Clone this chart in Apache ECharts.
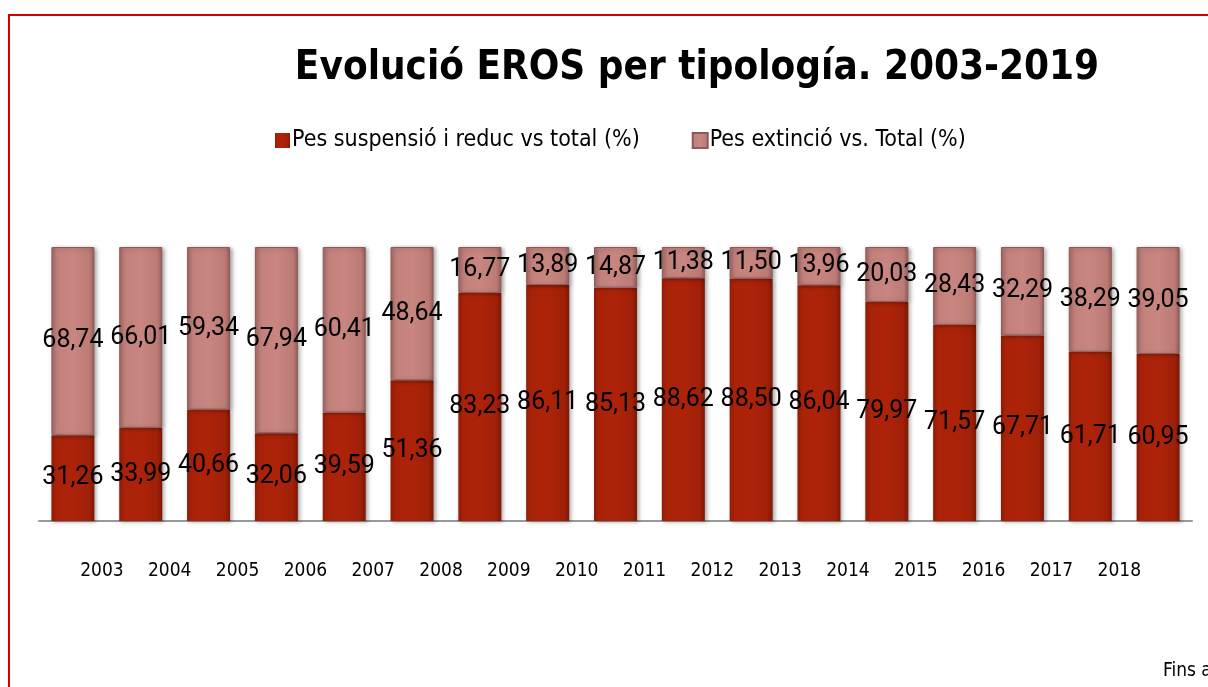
<!DOCTYPE html>
<html>
<head>
<meta charset="utf-8">
<script src="https://cdn.jsdelivr.net/npm/echarts@6/dist/echarts.min.js"></script>
<style>
  html, body { margin: 0; padding: 0; background: #fff; }
  #main { width: 1208px; height: 687px; }
</style>
</head>
<body>
<div id="main"></div>
<script>
// dades llegides del gràfic
var years = ['2003', '2004', '2005', '2006', '2007', '2008', '2009', '2010', '2011',
  '2012', '2013', '2014', '2015', '2016', '2017', '2018', ''];
var pesSuspensio = [31.26, 33.99, 40.66, 32.06, 39.59, 51.36, 83.23, 86.11, 85.13,
  88.62, 88.50, 86.04, 79.97, 71.57, 67.71, 61.71, 60.95];
var pesExtincio = [68.74, 66.01, 59.34, 67.94, 60.41, 48.64, 16.77, 13.89, 14.87,
  11.38, 11.50, 13.96, 20.03, 28.43, 32.29, 38.29, 39.05];

var narrow = '"DejaVu Sans Condensed", sans-serif';

function fmt(p) {
  return p.value.toFixed(2).replace('.', ',');
}

var myChart = echarts.init(document.getElementById('main'));
var option = {
  backgroundColor: '#fff',
  animation: false,
  title: {
    text: 'Evolució EROS per tipología. 2003-2019',
    left: 692,
    textAlign: 'center',
    top: 44,
    textStyle: { fontFamily: narrow, fontSize: 40, fontWeight: 'bold', color: '#000' }
  },
  legend: {
    top: 124,
    left: 270,
    itemWidth: 15,
    itemHeight: 15,
    itemGap: 52,
    icon: 'rect',
    textStyle: { fontFamily: narrow, fontSize: 23, color: '#000', padding: [0, 0, 0, -3] },
    data: ['Pes suspensió i reduc vs total (%)', 'Pes extinció vs. Total (%)']
  },
  graphic: [
    {
      type: 'rect',
      shape: { x: 9, y: 15, width: 1400, height: 900 },
      style: { fill: 'none', stroke: '#d40000', lineWidth: 2 },
      silent: true
    },
    {
      type: 'text',
      left: 1163,
      top: 662,
      style: { text: 'Fins a', fontFamily: narrow, fontSize: 19, fill: '#000' }
    }
  ],
  grid: { left: 39, right: 16, top: 247, bottom: 166 },
  xAxis: {
    type: 'category',
    data: years,
    axisLine: { lineStyle: { color: '#999', width: 2 } },
    axisTick: { show: false },
    axisLabel: {
      interval: 0,
      margin: 41,
      fontFamily: narrow,
      fontSize: 19,
      color: '#000',
      padding: [0, 0, 0, 58]
    }
  },
  yAxis: { type: 'value', min: 0, max: 100, show: false, splitLine: { show: false } },
  series: [
    {
      name: 'Pes suspensió i reduc vs total (%)',
      type: 'bar',
      stack: 'total',
      barWidth: 43,
      data: pesSuspensio,
      itemStyle: {
        color: new echarts.graphic.LinearGradient(0, 0, 1, 0, [
          { offset: 0, color: '#8e1c07' },
          { offset: 0.12, color: '#a92208' },
          { offset: 0.5, color: '#ad2309' },
          { offset: 0.88, color: '#a02008' },
          { offset: 1, color: '#7d1806' }
        ]),
        shadowColor: 'rgba(0,0,0,0.35)',
        shadowBlur: 4,
        shadowOffsetX: 2,
        shadowOffsetY: 1
      },
      label: {
        show: true,
        position: 'inside',
        formatter: fmt,
        fontFamily: 'Roboto, sans-serif',
        fontSize: 25,
        color: '#000'
      }
    },
    {
      name: 'Pes extinció vs. Total (%)',
      type: 'bar',
      stack: 'total',
      barWidth: 43,
      data: pesExtincio,
      itemStyle: {
        color: new echarts.graphic.LinearGradient(0, 0, 1, 0, [
          { offset: 0, color: '#a86965' },
          { offset: 0.12, color: '#c3817c' },
          { offset: 0.5, color: '#c98681' },
          { offset: 0.88, color: '#bd7b76' },
          { offset: 1, color: '#9a605c' }
        ]),
        borderColor: '#8d5a57',
        borderWidth: 1,
        shadowColor: 'rgba(0,0,0,0.35)',
        shadowBlur: 4,
        shadowOffsetX: 2,
        shadowOffsetY: 1
      },
      label: {
        show: true,
        position: 'inside',
        formatter: fmt,
        fontFamily: 'Roboto, sans-serif',
        fontSize: 25,
        color: '#000'
      }
    }
  ]
};
option && myChart.setOption(option);
</script>
</body>
</html>
